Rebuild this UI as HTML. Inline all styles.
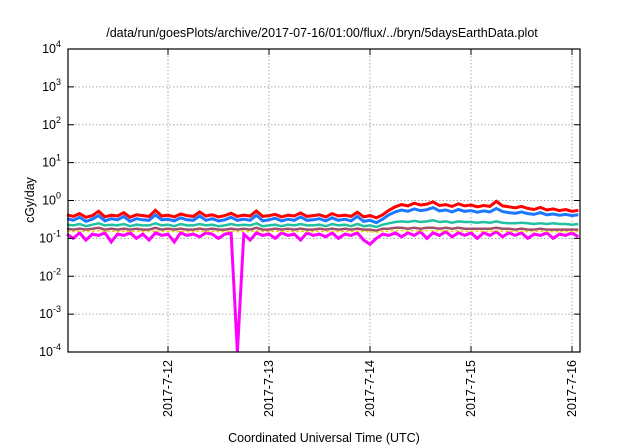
<!DOCTYPE html>
<html><head><meta charset="utf-8"><style>
body{margin:0;background:#fff;}
svg{display:block;font-family:"Liberation Sans",sans-serif;}
</style></head><body>
<svg id="chart" width="640" height="448" viewBox="0 0 640 448" xmlns="http://www.w3.org/2000/svg">
<text x="322" y="37" font-size="12.5" text-anchor="middle" fill="#000">/data/run/goesPlots/archive/2017-07-16/01:00/flux/../bryn/5daysEarthData.plot</text>
<g id="grid"></g>
<g id="series"></g>
<rect x="68" y="49" width="512" height="303" fill="none" stroke="#000" stroke-width="1.2"/>
<g id="axes"></g>
<text transform="translate(34,200) rotate(-90)" font-size="12.5" text-anchor="middle">cGy/day</text>
<text x="324" y="442" font-size="12.5" text-anchor="middle">Coordinated Universal Time (UTC)</text>
</svg>
<script>
const dayLabels=["2017-7-12","2017-7-13","2017-7-14","2017-7-15","2017-7-16"];
const dayOffsets=[1,2,3,4,5];
const yExponents=[-4,-3,-2,-1,0,1,2,3,4];
const step=0.0625;
const red=[0.42,0.38,0.45,0.36,0.40,0.52,0.37,0.41,0.39,0.48,0.36,0.42,0.40,0.38,0.55,0.39,0.41,0.37,0.44,0.40,0.38,0.50,0.39,0.42,0.37,0.40,0.46,0.38,0.41,0.39,0.53,0.38,0.40,0.43,0.37,0.41,0.39,0.47,0.38,0.40,0.42,0.37,0.45,0.39,0.41,0.38,0.49,0.37,0.40,0.35,0.42,0.55,0.68,0.78,0.72,0.85,0.76,0.80,0.92,0.74,0.78,0.70,0.82,0.72,0.76,0.68,0.74,0.70,0.95,0.72,0.68,0.64,0.70,0.62,0.58,0.66,0.56,0.60,0.54,0.58,0.52,0.55];
const blue=[0.33,0.30,0.36,0.28,0.32,0.40,0.29,0.33,0.31,0.38,0.28,0.33,0.31,0.30,0.42,0.31,0.32,0.29,0.35,0.31,0.30,0.39,0.30,0.33,0.29,0.31,0.36,0.30,0.32,0.30,0.41,0.29,0.31,0.34,0.29,0.32,0.30,0.37,0.30,0.31,0.33,0.29,0.35,0.30,0.32,0.29,0.38,0.28,0.30,0.26,0.32,0.42,0.50,0.56,0.52,0.60,0.54,0.57,0.65,0.53,0.56,0.50,0.58,0.52,0.54,0.49,0.53,0.50,0.62,0.51,0.48,0.46,0.50,0.45,0.43,0.48,0.42,0.44,0.41,0.43,0.40,0.42];
const teal=[0.23,0.22,0.24,0.21,0.23,0.25,0.22,0.23,0.22,0.24,0.21,0.23,0.22,0.22,0.25,0.22,0.23,0.21,0.24,0.22,0.22,0.24,0.22,0.23,0.21,0.22,0.24,0.22,0.23,0.22,0.25,0.21,0.22,0.23,0.21,0.23,0.22,0.24,0.22,0.22,0.23,0.21,0.24,0.22,0.23,0.21,0.24,0.21,0.22,0.20,0.23,0.25,0.27,0.28,0.27,0.29,0.27,0.28,0.30,0.27,0.28,0.26,0.28,0.27,0.27,0.26,0.27,0.26,0.28,0.26,0.25,0.25,0.26,0.25,0.24,0.25,0.24,0.25,0.24,0.24,0.23,0.24];
const brown=[0.18,0.17,0.18,0.17,0.18,0.19,0.17,0.18,0.17,0.18,0.17,0.18,0.17,0.17,0.19,0.17,0.18,0.17,0.18,0.17,0.17,0.18,0.17,0.18,0.17,0.17,0.18,0.17,0.18,0.17,0.19,0.17,0.17,0.18,0.17,0.18,0.17,0.18,0.17,0.17,0.18,0.17,0.18,0.17,0.18,0.17,0.18,0.17,0.17,0.16,0.18,0.18,0.19,0.19,0.18,0.19,0.18,0.19,0.19,0.18,0.19,0.18,0.19,0.18,0.18,0.18,0.18,0.18,0.19,0.18,0.18,0.17,0.18,0.17,0.17,0.18,0.17,0.17,0.17,0.17,0.17,0.17];
const yellow=[0.155,0.15,0.155,0.15,0.155,0.16,0.15,0.155,0.15,0.155,0.15,0.155,0.15,0.15,0.16,0.15,0.155,0.15,0.155,0.15,0.15,0.155,0.15,0.155,0.15,0.15,0.155,0.15,0.155,0.15,0.16,0.15,0.15,0.155,0.15,0.155,0.15,0.155,0.15,0.15,0.155,0.15,0.155,0.15,0.155,0.15,0.155,0.15,0.15,0.145,0.155,0.155,0.16,0.16,0.155,0.16,0.155,0.16,0.16,0.155,0.16,0.155,0.16,0.155,0.155,0.155,0.155,0.155,0.16,0.155,0.155,0.15,0.155,0.15,0.15,0.155,0.15,0.15,0.15,0.15,0.15,0.15];
const magenta=[0.13,0.10,0.14,0.09,0.13,0.12,0.14,0.08,0.13,0.12,0.14,0.10,0.13,0.09,0.14,0.12,0.13,0.08,0.14,0.12,0.13,0.11,0.14,0.13,0.10,0.13,0.14,0.0001,0.13,0.09,0.14,0.12,0.13,0.10,0.14,0.12,0.13,0.09,0.14,0.12,0.13,0.11,0.14,0.10,0.13,0.12,0.14,0.09,0.07,0.10,0.13,0.12,0.14,0.11,0.14,0.12,0.15,0.10,0.14,0.12,0.15,0.11,0.14,0.12,0.14,0.10,0.14,0.12,0.15,0.11,0.14,0.12,0.14,0.10,0.13,0.12,0.14,0.10,0.13,0.12,0.14,0.11];
const L=68,R=580,T=49,B=352,day0=67,pxPerDay=101;
const xs=d=>day0+d*pxPerDay;
const ys=v=>{let y=B-(Math.log10(v)+4)*(B-T)/8;return Math.min(B,Math.max(T,y));};
const NS="http://www.w3.org/2000/svg";
function mk(tag,parent){const e=document.createElementNS(NS,tag);parent.appendChild(e);return e;}
const grid=document.getElementById('grid'),axes=document.getElementById('axes'),ser=document.getElementById('series');
yExponents.forEach(ex=>{
  const y=ys(Math.pow(10,ex));
  if(ex>-4&&ex<4){const g=mk('line',grid);
  
  
  g.setAttribute('x1',L);g.setAttribute('x2',R);g.setAttribute('y1',y);g.setAttribute('y2',y);g.setAttribute('stroke','#aaa');g.setAttribute('stroke-dasharray','1.5,2');}
  const t=mk('text',axes);
  
  
  t.setAttribute('x',61);t.setAttribute('y',y+4);t.setAttribute('text-anchor','end');t.setAttribute('font-size','12.5');
  t.innerHTML='10<tspan dy="-6" font-size="9">'+ex+'</tspan>';
  [[L,L+6],[R-6,R]].forEach(p=>{const k=mk('line',axes);
  
  
  k.setAttribute('x1',p[0]);k.setAttribute('x2',p[1]);k.setAttribute('y1',y);k.setAttribute('y2',y);k.setAttribute('stroke','#000');});
});
dayOffsets.forEach((d,i)=>{
  const x=xs(d);
  const g=mk('line',grid);
  
  
  g.setAttribute('x1',x);g.setAttribute('x2',x);g.setAttribute('y1',T);g.setAttribute('y2',B);g.setAttribute('stroke','#aaa');g.setAttribute('stroke-dasharray','1.5,2');
  [[B,B-6],[T,T+6]].forEach(p=>{const k=mk('line',axes);
  
  
  k.setAttribute('x1',x);k.setAttribute('x2',x);k.setAttribute('y1',p[0]);k.setAttribute('y2',p[1]);k.setAttribute('stroke','#000');});
  const t=mk('text',axes);
  
  
  t.setAttribute('transform','translate('+(x+4)+',360) rotate(-90)');t.setAttribute('text-anchor','end');t.setAttribute('font-size','12.5');
  t.textContent=dayLabels[i];
});
const seriesList=[[magenta,'#ff00ff',3,null],[brown,'#a0506a',2.5,null],[yellow,'#e8d800',1.4,'3,2'],[teal,'#20c0a0',2.5,null],[blue,'#1e78ff',3,null],[red,'#ff0000',3,null]];
seriesList.forEach(s=>{
  const p=mk('path',ser);
  
  
  p.setAttribute('d',s[0].map((v,i)=>(i?'L':'M')+xs(i*step).toFixed(1)+','+ys(v).toFixed(1)).join(''));
  p.setAttribute('fill','none');p.setAttribute('stroke',s[1]);p.setAttribute('stroke-width',s[2]);p.setAttribute('stroke-linejoin','miter');
  if(s[3])p.setAttribute('stroke-dasharray',s[3]);
});
</script>
</body></html>
